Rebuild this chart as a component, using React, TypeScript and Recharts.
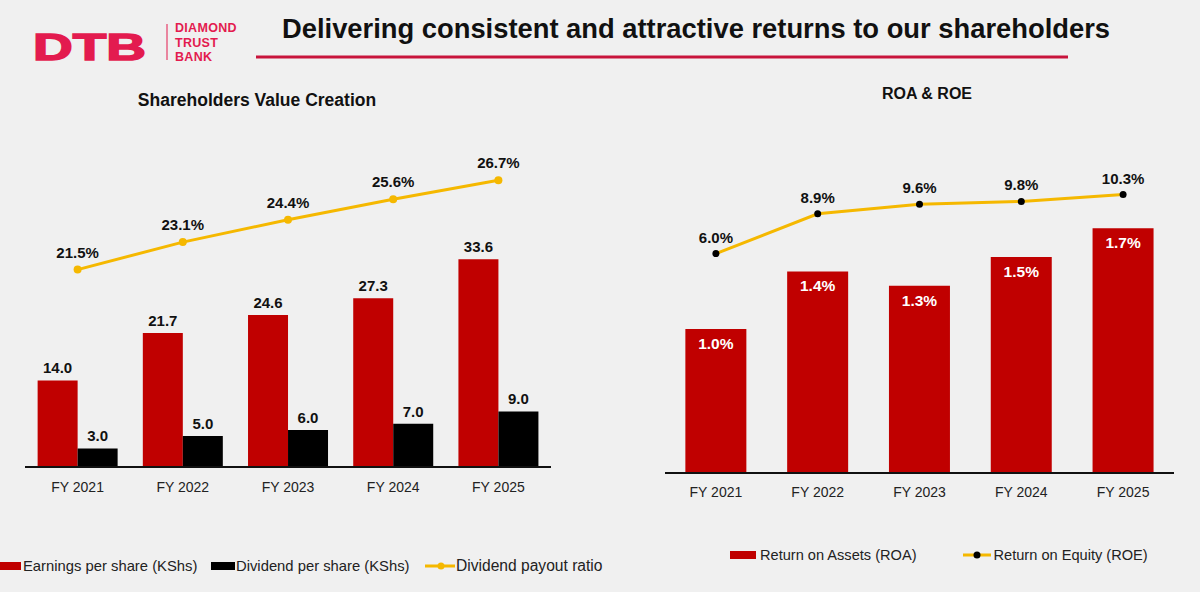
import React from 'react';
import { ComposedChart, Bar, Line, XAxis, YAxis, LabelList } from 'recharts';

const years = ['FY 2021', 'FY 2022', 'FY 2023', 'FY 2024', 'FY 2025'];
const eps = [14.0, 21.7, 24.6, 27.3, 33.6];
const dps = [3.0, 5.0, 6.0, 7.0, 9.0];
const payoutRatio = [21.5, 23.1, 24.4, 25.6, 26.7];
const roa = [1.0, 1.4, 1.3, 1.5, 1.7];
const roe = [6.0, 8.9, 9.6, 9.8, 10.3];

const RED = '#C00000';
const GOLD = '#F5B800';
const BRAND = '#E31B4F';
const FONT = '"Liberation Sans", Arial, sans-serif';

const shareholderData = years.map((y, i) => ({
  year: y,
  eps: eps[i],
  dps: dps[i],
  payout: payoutRatio[i],
}));

const returnsData = years.map((y, i) => ({
  year: y,
  roa: roa[i],
  roe: roe[i],
}));

const one = (v: any) => Number(v).toFixed(1);
const pct = (v: any) => `${Number(v).toFixed(1)}%`;

const legendText: React.CSSProperties = {
  position: 'absolute',
  fontSize: 14.8,
  color: '#222',
  whiteSpace: 'nowrap',
  lineHeight: '18px',
};

export default function App() {
  return (
    <div
      style={{
        position: 'absolute',
        left: 0,
        top: 0,
        width: 1200,
        height: 592,
        background: '#F0F0F0',
        fontFamily: FONT,
        overflow: 'hidden',
      }}
    >
      {/* header */}
      <svg width={1200} height={120} style={{ position: 'absolute', left: 0, top: 0 }}>
        <text x={33} y={60} fill={BRAND} stroke={BRAND} strokeWidth={1.5} fontSize={37} fontWeight={700} fontFamily={FONT} textLength={113} lengthAdjust="spacingAndGlyphs">
          DTB
        </text>
        <line x1={167} y1={24} x2={167} y2={60} stroke={BRAND} strokeWidth={1} />
        <text x={175} y={32} fill={BRAND} fontSize={12.5} fontWeight={700} fontFamily={FONT} letterSpacing={0.3}>DIAMOND</text>
        <text x={175} y={47} fill={BRAND} fontSize={12.5} fontWeight={700} fontFamily={FONT} letterSpacing={0.3}>TRUST</text>
        <text x={175} y={61} fill={BRAND} fontSize={12.5} fontWeight={700} fontFamily={FONT} letterSpacing={0.3}>BANK</text>
        <text x={282} y={38} fill="#111" fontSize={27} fontWeight={700} fontFamily={FONT} textLength={828} lengthAdjust="spacingAndGlyphs">
          Delivering consistent and attractive returns to our shareholders
        </text>
        <line x1={256} y1={57} x2={1068} y2={57} stroke="#C8143C" strokeWidth={3} />
        <text x={257} y={106} textAnchor="middle" fill="#111" fontSize={17.5} fontWeight={700} fontFamily={FONT}>
          Shareholders Value Creation
        </text>
        <text x={927} y={99} textAnchor="middle" fill="#111" fontSize={16} fontWeight={700} fontFamily={FONT}>
          ROA &amp; ROE
        </text>
      </svg>

      {/* left chart */}
      <div style={{ position: 'absolute', left: 0, top: 0 }}>
        <ComposedChart
          width={600}
          height={592}
          data={shareholderData}
          margin={{ top: 158, right: 49, bottom: 95, left: 25 }}
          barCategoryGap="12%"
          barGap={0}
        >
          <XAxis
            dataKey="year"
            height={30}
            tickLine={false}
            axisLine={{ stroke: '#111', strokeWidth: 2 }}
            tick={{ fill: '#222', fontSize: 14, fontFamily: FONT }}
            tickMargin={9}
          />
          <YAxis yAxisId="bar" hide domain={[0, 50]} />
          <YAxis yAxisId="line" hide domain={[10, 28]} orientation="right" />
          <Bar yAxisId="bar" dataKey="eps" fill={RED} isAnimationActive={false}>
            <LabelList dataKey="eps" position="top" offset={7} formatter={one} fill="#111" fontSize={15} fontWeight={700} fontFamily={FONT} />
          </Bar>
          <Bar yAxisId="bar" dataKey="dps" fill="#000" isAnimationActive={false}>
            <LabelList dataKey="dps" position="top" offset={7} formatter={one} fill="#111" fontSize={15} fontWeight={700} fontFamily={FONT} />
          </Bar>
          <Line
            yAxisId="line"
            dataKey="payout"
            type="linear"
            stroke={GOLD}
            strokeWidth={3}
            dot={{ r: 4, fill: GOLD, stroke: GOLD, strokeWidth: 0 }}
            isAnimationActive={false}
          >
            <LabelList dataKey="payout" position="top" offset={12} formatter={pct} fill="#111" fontSize={15} fontWeight={700} fontFamily={FONT} />
          </Line>
        </ComposedChart>
      </div>

      {/* right chart */}
      <div style={{ position: 'absolute', left: 600, top: 0 }}>
        <ComposedChart
          width={600}
          height={592}
          data={returnsData}
          margin={{ top: 185, right: 26, bottom: 89, left: 65 }}
          barCategoryGap="20%"
        >
          <XAxis
            dataKey="year"
            height={30}
            tickLine={false}
            axisLine={{ stroke: '#111', strokeWidth: 2 }}
            tick={{ fill: '#222', fontSize: 14, fontFamily: FONT }}
            tickMargin={8}
          />
          <YAxis yAxisId="bar" hide domain={[0, 2]} />
          <YAxis yAxisId="line" hide domain={[-10, 11]} orientation="right" />
          <Bar yAxisId="bar" dataKey="roa" fill={RED} isAnimationActive={false}>
            <LabelList dataKey="roa" position="insideTop" offset={9} formatter={pct} fill="#fff" fontSize={15.5} fontWeight={700} fontFamily={FONT} />
          </Bar>
          <Line
            yAxisId="line"
            dataKey="roe"
            type="linear"
            stroke={GOLD}
            strokeWidth={3}
            dot={{ r: 3.5, fill: '#000', stroke: 'none' }}
            isAnimationActive={false}
          >
            <LabelList dataKey="roe" position="top" offset={11} formatter={pct} fill="#111" fontSize={15} fontWeight={700} fontFamily={FONT} />
          </Line>
        </ComposedChart>
      </div>

      {/* left legend */}
      <div style={{ position: 'absolute', left: 0, top: 557, width: 610, height: 18 }}>
        <span style={{ position: 'absolute', left: 0, top: 5, width: 21, height: 8, background: RED }} />
        <span style={{ ...legendText, left: 23, top: 0 }}>Earnings per share (KShs)</span>
        <span style={{ position: 'absolute', left: 211, top: 5, width: 24, height: 8, background: '#000' }} />
        <span style={{ ...legendText, left: 236, top: 0 }}>Dividend per share (KShs)</span>
        <svg width={30} height={12} style={{ position: 'absolute', left: 425, top: 3 }}>
          <line x1={0} y1={6} x2={30} y2={6} stroke={GOLD} strokeWidth={3} />
          <circle cx={16} cy={6} r={3.5} fill={GOLD} />
        </svg>
        <span style={{ ...legendText, left: 456, top: 0, fontSize: 15.6 }}>Dividend payout ratio</span>
      </div>

      {/* right legend */}
      <div style={{ position: 'absolute', left: 730, top: 547, display: 'flex', alignItems: 'center', fontSize: 14.6, color: '#222', whiteSpace: 'nowrap' }}>
        <span style={{ display: 'inline-block', width: 26, height: 8, background: RED, marginRight: 4 }} />
        <span>Return on Assets (ROA)</span>
        <svg width={28} height={12} style={{ marginLeft: 46, marginRight: 3 }}>
          <line x1={0} y1={6} x2={28} y2={6} stroke={GOLD} strokeWidth={3} />
          <circle cx={14} cy={6} r={3.5} fill="#000" />
        </svg>
        <span>Return on Equity (ROE)</span>
      </div>
    </div>
  );
}
